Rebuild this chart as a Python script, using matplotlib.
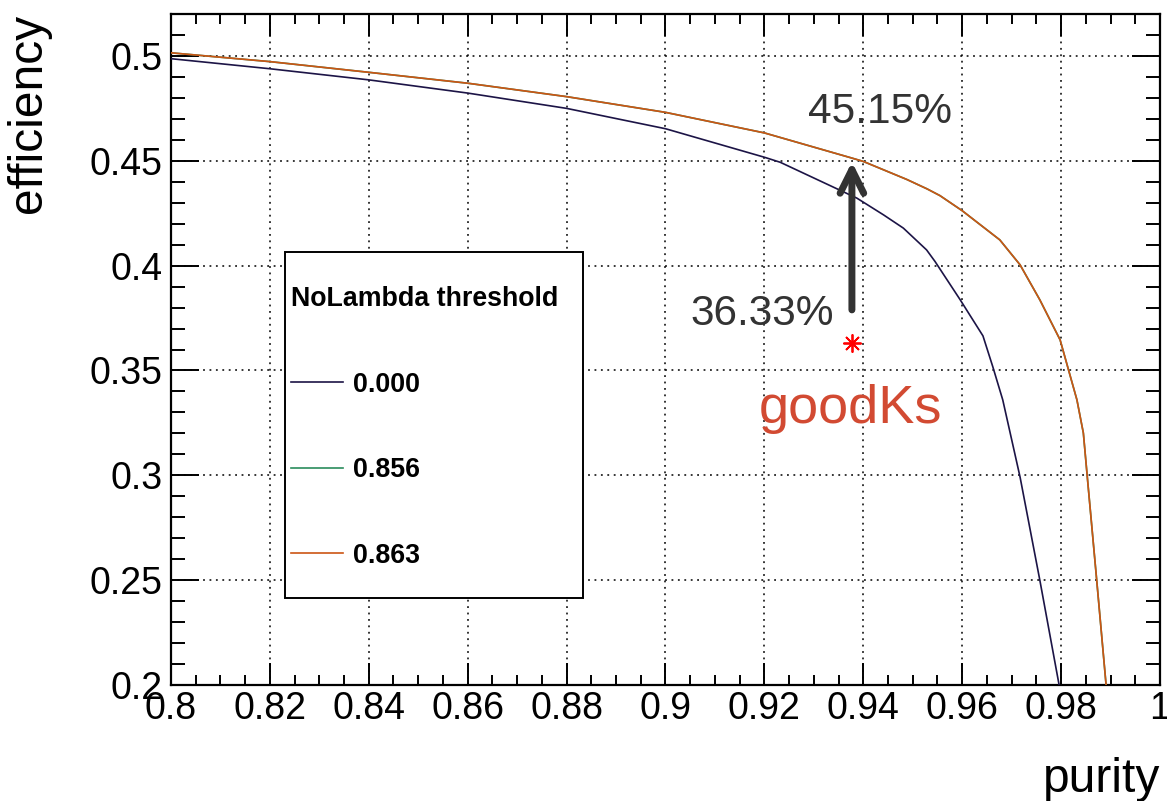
import matplotlib
matplotlib.use("Agg")
import matplotlib.pyplot as plt
from matplotlib.patches import Rectangle
from matplotlib.ticker import MultipleLocator

plt.rcParams['font.family'] = ['Liberation Sans', 'DejaVu Sans']

# efficiency vs purity for each NoLambda threshold
purity_000 = [0.800, 0.820, 0.840, 0.860, 0.880, 0.900, 0.920, 0.9232, 0.9387, 0.9441,
              0.9481, 0.9528, 0.9545, 0.9596, 0.9642, 0.9662, 0.9682, 0.9717, 0.9757,
              0.9796, 0.9820]
eff_000 = [0.4987, 0.4939, 0.4886, 0.4823, 0.4750, 0.4653, 0.4517, 0.4493, 0.4322, 0.4242,
           0.4179, 0.4075, 0.4020, 0.3837, 0.3665, 0.3517, 0.3360, 0.2992, 0.2500,
           0.2000, 0.1700]

purity_856 = [0.800, 0.820, 0.840, 0.860, 0.880, 0.900, 0.920, 0.9377, 0.940, 0.9488,
              0.9529, 0.9555, 0.9600, 0.9676, 0.9717, 0.9757, 0.9798, 0.9832, 0.9845,
              0.9853, 0.9872, 0.9891, 0.9900]
eff_856 = [0.5015, 0.4973, 0.4922, 0.4870, 0.4806, 0.4731, 0.4633, 0.4513, 0.4497, 0.4411,
           0.4366, 0.4334, 0.4262, 0.4123, 0.4004, 0.3837, 0.3646, 0.3360, 0.3202,
           0.2992, 0.2500, 0.2000, 0.1780]

purity_863 = purity_856
eff_863 = eff_856

thresholds = ['0.000', '0.856', '0.863']
colors = ['#1c1446', '#2a8c5c', '#cc5514']

# goodKs working point
goodks_purity = 0.9377
goodks_eff = 0.3633
cut_eff = 0.4515

fig = plt.figure(figsize=(11.67, 8.01), dpi=100)
ax = fig.add_axes([0.1465, 0.1448, 0.9940 - 0.1465, 0.9825 - 0.1448])

lines = []
for px, ey, c in zip([purity_000, purity_856, purity_863], [eff_000, eff_856, eff_863], colors):
    ln, = ax.plot(px, ey, color=c, lw=1.2, zorder=3)
    lines.append(ln)

ax.plot([goodks_purity], [goodks_eff], linestyle='none', marker=(8, 2, 0),
        markersize=13, markeredgewidth=1.3, color='#ff0000', zorder=4)

ax.annotate('', xy=(goodks_purity, cut_eff - 0.002), xytext=(goodks_purity, 0.3789),
            arrowprops=dict(arrowstyle='->, head_length=1.7, head_width=0.85',
                            lw=5, color='#333333', shrinkA=0, shrinkB=0), zorder=4)

ax.text(0.9434, 0.4681, '%.2f%%' % (cut_eff * 100), fontsize=30.5, color='#333333',
        ha='center', va='baseline')
ax.text(0.9195, 0.3718, '%.2f%%' % (goodks_eff * 100), fontsize=30.5, color='#333333',
        ha='center', va='baseline')
ax.text(0.9375, 0.3250, 'goodKs', fontsize=39, color='#d24a32', ha='center', va='baseline')

ax.set_xlim(0.8, 1.0)
ax.set_ylim(0.2, 0.52)

ax.xaxis.set_major_locator(MultipleLocator(0.02))
ax.xaxis.set_minor_locator(MultipleLocator(0.005))
ax.yaxis.set_major_locator(MultipleLocator(0.05))
ax.yaxis.set_minor_locator(MultipleLocator(0.01))
ax.xaxis.set_major_formatter(plt.FuncFormatter(lambda v, p: ('%.2f' % v).rstrip('0').rstrip('.')))
ax.yaxis.set_major_formatter(plt.FuncFormatter(lambda v, p: ('%.2f' % v).rstrip('0').rstrip('.')))

ax.tick_params(axis='both', which='both', direction='in', top=True, right=True,
               width=1.4, labelsize=27)
ax.tick_params(axis='x', which='major', length=16, pad=4)
ax.tick_params(axis='x', which='minor', length=7)
ax.tick_params(axis='y', which='major', length=20, pad=6)
ax.tick_params(axis='y', which='minor', length=10)
for s in ax.spines.values():
    s.set_linewidth(1.6)

ax.grid(True, which='major', color='black', linestyle=(0, (1.2, 3)), lw=1.1)
ax.set_axisbelow(True)

ax.set_xlabel('purity', fontsize=34.5, loc='right', labelpad=22)
ax.set_ylabel('efficiency', fontsize=34.5, loc='top', labelpad=28)

# legend frame and entries
ax.add_patch(Rectangle((0.1153, 0.1297), 0.3013, 0.5156, transform=ax.transAxes,
                       facecolor='white', edgecolor='black', lw=1.4, zorder=4))
leg = ax.legend(lines, thresholds, title='NoLambda threshold', loc='upper left',
                bbox_to_anchor=(0.1214, 0.5946), frameon=False, borderpad=0,
                borderaxespad=0, labelspacing=2.22, handlelength=1.94, handletextpad=0.37,
                alignment='left', prop={'size': 19.3, 'weight': 'bold'},
                title_fontproperties={'size': 19.3, 'weight': 'bold'})
leg.set_zorder(5)

fig.savefig('out.png', dpi=100)
